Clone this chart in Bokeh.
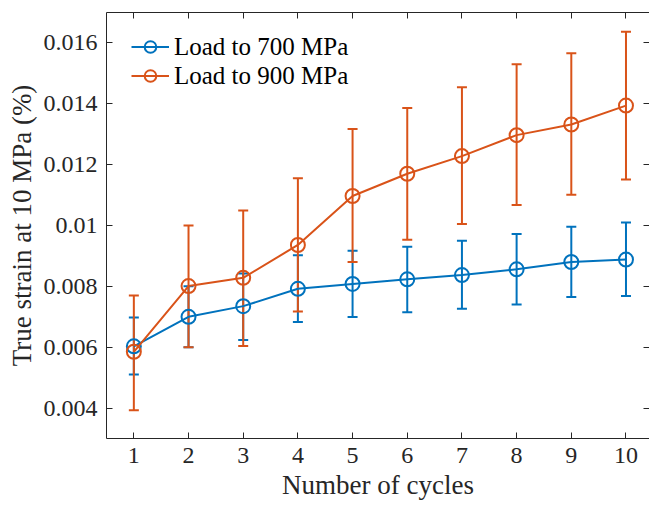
from bokeh.plotting import figure
from bokeh.models import (ColumnDataSource, Whisker, TeeHead, LinearAxis, FixedTicker,
                          Legend, LegendItem, Range1d)
from bokeh.embed import file_html
from bokeh.resources import INLINE

# ---- data ----
cycles = [1, 2, 3, 4, 5, 6, 7, 8, 9, 10]

mean_700 = [0.00603, 0.00700, 0.00735, 0.00792, 0.00808, 0.00823, 0.00837, 0.00856, 0.00880, 0.00888]
upper_700 = [0.00698, 0.00800, 0.00842, 0.00902, 0.00917, 0.00930, 0.00950, 0.00972, 0.00996, 0.01010]
lower_700 = [0.00510, 0.00600, 0.00624, 0.00683, 0.00699, 0.00715, 0.00726, 0.00740, 0.00765, 0.00768]

mean_900 = [0.00585, 0.00801, 0.00828, 0.00936, 0.01097, 0.01170, 0.01228, 0.01297, 0.01332, 0.01394]
upper_900 = [0.00770, 0.01000, 0.01049, 0.01155, 0.01317, 0.01386, 0.01454, 0.01530, 0.01566, 0.01637]
lower_900 = [0.00393, 0.00600, 0.00604, 0.00717, 0.00880, 0.00953, 0.01005, 0.01067, 0.01101, 0.01151]

series_names = ["Load to 700 MPa", "Load to 900 MPa"]

x_ticks = [1, 2, 3, 4, 5, 6, 7, 8, 9, 10]
y_ticks = [0.004, 0.006, 0.008, 0.010, 0.012, 0.014, 0.016]
y_tick_labels = ["0.004", "0.006", "0.008", "0.01", "0.012", "0.014", "0.016"]

BLUE = "#0072BD"
ORANGE = "#D95319"
AXC = "#262626"
FONT = "Liberation Serif"

p = figure(width=649, height=508, output_backend="svg", toolbar_location=None,
           x_range=Range1d(0.5, 10.43), y_range=Range1d(0.003, 0.017),
           min_border_left=106, min_border_top=12, min_border_bottom=70, min_border_right=0)
p.xgrid.visible = False
p.ygrid.visible = False
p.outline_line_color = None
p.background_fill_color = "white"
p.border_fill_color = "white"

for ax in (p.xaxis[0], p.yaxis[0]):
    ax.major_tick_in = 6
    ax.major_tick_out = 0
    ax.minor_tick_line_color = None
    ax.axis_line_color = AXC
    ax.major_tick_line_color = AXC
    ax.axis_line_width = 1
    ax.major_label_text_font = FONT
    ax.major_label_text_font_size = "24px"
    ax.major_label_text_color = AXC
    ax.axis_label_text_font = FONT
    ax.axis_label_text_font_size = "27px"
    ax.axis_label_text_font_style = "normal"
    ax.axis_label_text_color = AXC
    ax.major_label_standoff = 9

p.xaxis[0].ticker = FixedTicker(ticks=x_ticks)
p.yaxis[0].ticker = FixedTicker(ticks=y_ticks)
p.yaxis[0].major_label_overrides = {t: s for t, s in zip(y_ticks, y_tick_labels)}
p.xaxis[0].axis_label = "Number of cycles"
p.yaxis[0].axis_label = "True strain at 10 MPa (%)"
p.xaxis[0].axis_label_standoff = 4
p.yaxis[0].axis_label_standoff = 4

# box-style top & right axes (ticks only, no labels)
top = LinearAxis(ticker=FixedTicker(ticks=x_ticks), major_label_text_font_size="1px",
                 major_label_text_color=None, major_label_standoff=0,
                 major_tick_in=6, major_tick_out=0,
                 minor_tick_line_color=None, axis_line_color=AXC, major_tick_line_color=AXC)
right = LinearAxis(ticker=FixedTicker(ticks=y_ticks), major_label_text_font_size="1px",
                   major_label_text_color=None, major_label_standoff=0,
                   major_tick_in=6, major_tick_out=0,
                   minor_tick_line_color=None, axis_line_color=None, major_tick_line_color=AXC)
p.add_layout(top, "above")
p.add_layout(right, "right")

items = []
for name, mean, up, lo, col in [(series_names[0], mean_700, upper_700, lower_700, BLUE),
                                (series_names[1], mean_900, upper_900, lower_900, ORANGE)]:
    src = ColumnDataSource(dict(x=cycles, y=mean, upper=up, lower=lo))
    w = Whisker(base="x", upper="upper", lower="lower", source=src, dimension="height",
                line_color=col, line_width=2,
                upper_head=TeeHead(size=10, line_color=col, line_width=2),
                lower_head=TeeHead(size=10, line_color=col, line_width=2))
    p.add_layout(w)
    ln = p.line("x", "y", source=src, line_color=col, line_width=2)
    mk = p.scatter("x", "y", source=src, marker="circle", size=14, fill_color=None,
                   line_color=col, line_width=2)
    items.append(LegendItem(label=name, renderers=[ln, mk]))

legend = Legend(items=items, location=(25, 348), margin=0, padding=0, spacing=0,
                glyph_width=38, glyph_height=29, label_height=29, label_standoff=5,
                label_text_font=FONT, label_text_font_size="25px", label_text_color="black",
                border_line_color=None, background_fill_alpha=0)
p.add_layout(legend, "center")

open("out.html", "w").write(file_html(p, INLINE))
